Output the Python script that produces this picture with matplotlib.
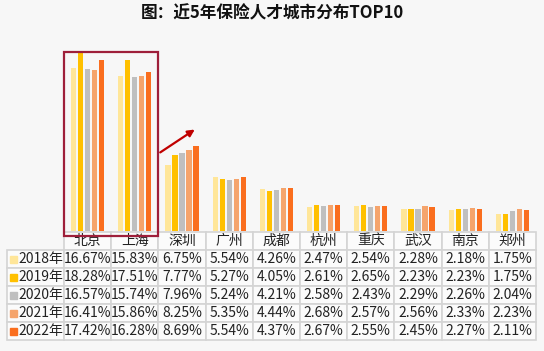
import matplotlib.pyplot as plt
from matplotlib.patches import Rectangle

plt.rcParams['font.family'] = ['Noto Sans CJK SC', 'DejaVu Sans']

cities = ['北京', '上海', '深圳', '广州', '成都', '杭州', '重庆', '武汉', '南京', '郑州']
years = ['2018年', '2019年', '2020年', '2021年', '2022年']
share_2018 = [16.67, 15.83, 6.75, 5.54, 4.26, 2.47, 2.54, 2.28, 2.18, 1.75]
share_2019 = [18.28, 17.51, 7.77, 5.27, 4.05, 2.61, 2.65, 2.23, 2.23, 1.75]
share_2020 = [16.57, 15.74, 7.96, 5.24, 4.21, 2.58, 2.43, 2.29, 2.26, 2.04]
share_2021 = [16.41, 15.86, 8.25, 5.35, 4.44, 2.68, 2.57, 2.56, 2.33, 2.23]
share_2022 = [17.42, 16.28, 8.69, 5.54, 4.37, 2.67, 2.55, 2.45, 2.27, 2.11]
series = [share_2018, share_2019, share_2020, share_2021, share_2022]
colors = ['#FFE699', '#FFC000', '#BFBFBF', '#F5A46C', '#FA6E1E']

W, H = 544, 351
fig = plt.figure(figsize=(W / 100, H / 100), dpi=100, facecolor='#F7F7F7')
# plot area in pixels: x 64..536, baseline y=231, top y=52
ax = fig.add_axes([64 / W, 1 - 231 / H, 472 / W, 179 / H])
ax.set_facecolor('none')

x = list(range(len(cities)))
pitch, width = 0.149, 0.11
for i, vals in enumerate(series):
    ax.bar([p + (i - 2) * pitch for p in x], vals, width=width, color=colors[i])

ax.set_xlim(-0.5, len(cities) - 0.5)
ax.set_ylim(0, 18.28)
for s in ax.spines.values():
    s.set_visible(False)
ax.set_xticks([])
ax.set_yticks([])

# data table below the bars
rows = [[''] + cities]
for vals in series:
    rows.append([''] + [f'{v:.2f}%' for v in vals])
tw = 536 - 7
col_w = [57 / tw] + [47.2 / tw] * len(cities)
tbl = ax.table(cellText=rows, colWidths=col_w, cellLoc='center',
               bbox=[(7 - 64) / 472, -(340 - 231) / 179, tw / 472, (340 - 232) / 179])
tbl.auto_set_font_size(False)
tbl.set_fontsize(10)
for (r, c), cell in tbl.get_celld().items():
    cell.set_edgecolor('#D4D4D4')
    cell.set_linewidth(1.2)
    cell.set_facecolor('#FBFBFB')
    cell.get_text().set_color('#222222')
    if r == 0 and c == 0:
        cell.visible_edges = ''
        cell.set_facecolor('none')

# row labels with legend keys
row_h = (340 - 250) / 5
for i, yr in enumerate(years):
    yc = 250 + row_h * (i + 0.5)
    ax.add_patch(Rectangle((10 / W, 1 - (yc + 3.5) / H), 7 / W, 7 / H,
                           transform=fig.transFigure, color=colors[i], clip_on=False))
    fig.text(63 / W, 1 - yc / H, yr, ha='right', va='center', fontsize=10, color='#222222')

# highlight box around the top two cities and arrow
ax.add_patch(Rectangle((-0.5, -0.51), 1.99, 18.79, fill=False, edgecolor='#9E1F3A',
                       linewidth=1.6, clip_on=False))
ax.annotate('', xy=(2.32, 10.52), xytext=(1.49, 7.87),
            arrowprops=dict(arrowstyle='-|>', color='#C00000', lw=1.6, mutation_scale=10))

fig.text(0.5, 1 - 13 / H, '图：近5年保险人才城市分布TOP10', ha='center', va='center',
         fontsize=12, fontweight='bold', color='#111111')

fig.savefig('out.png', dpi=100, facecolor=fig.get_facecolor())
